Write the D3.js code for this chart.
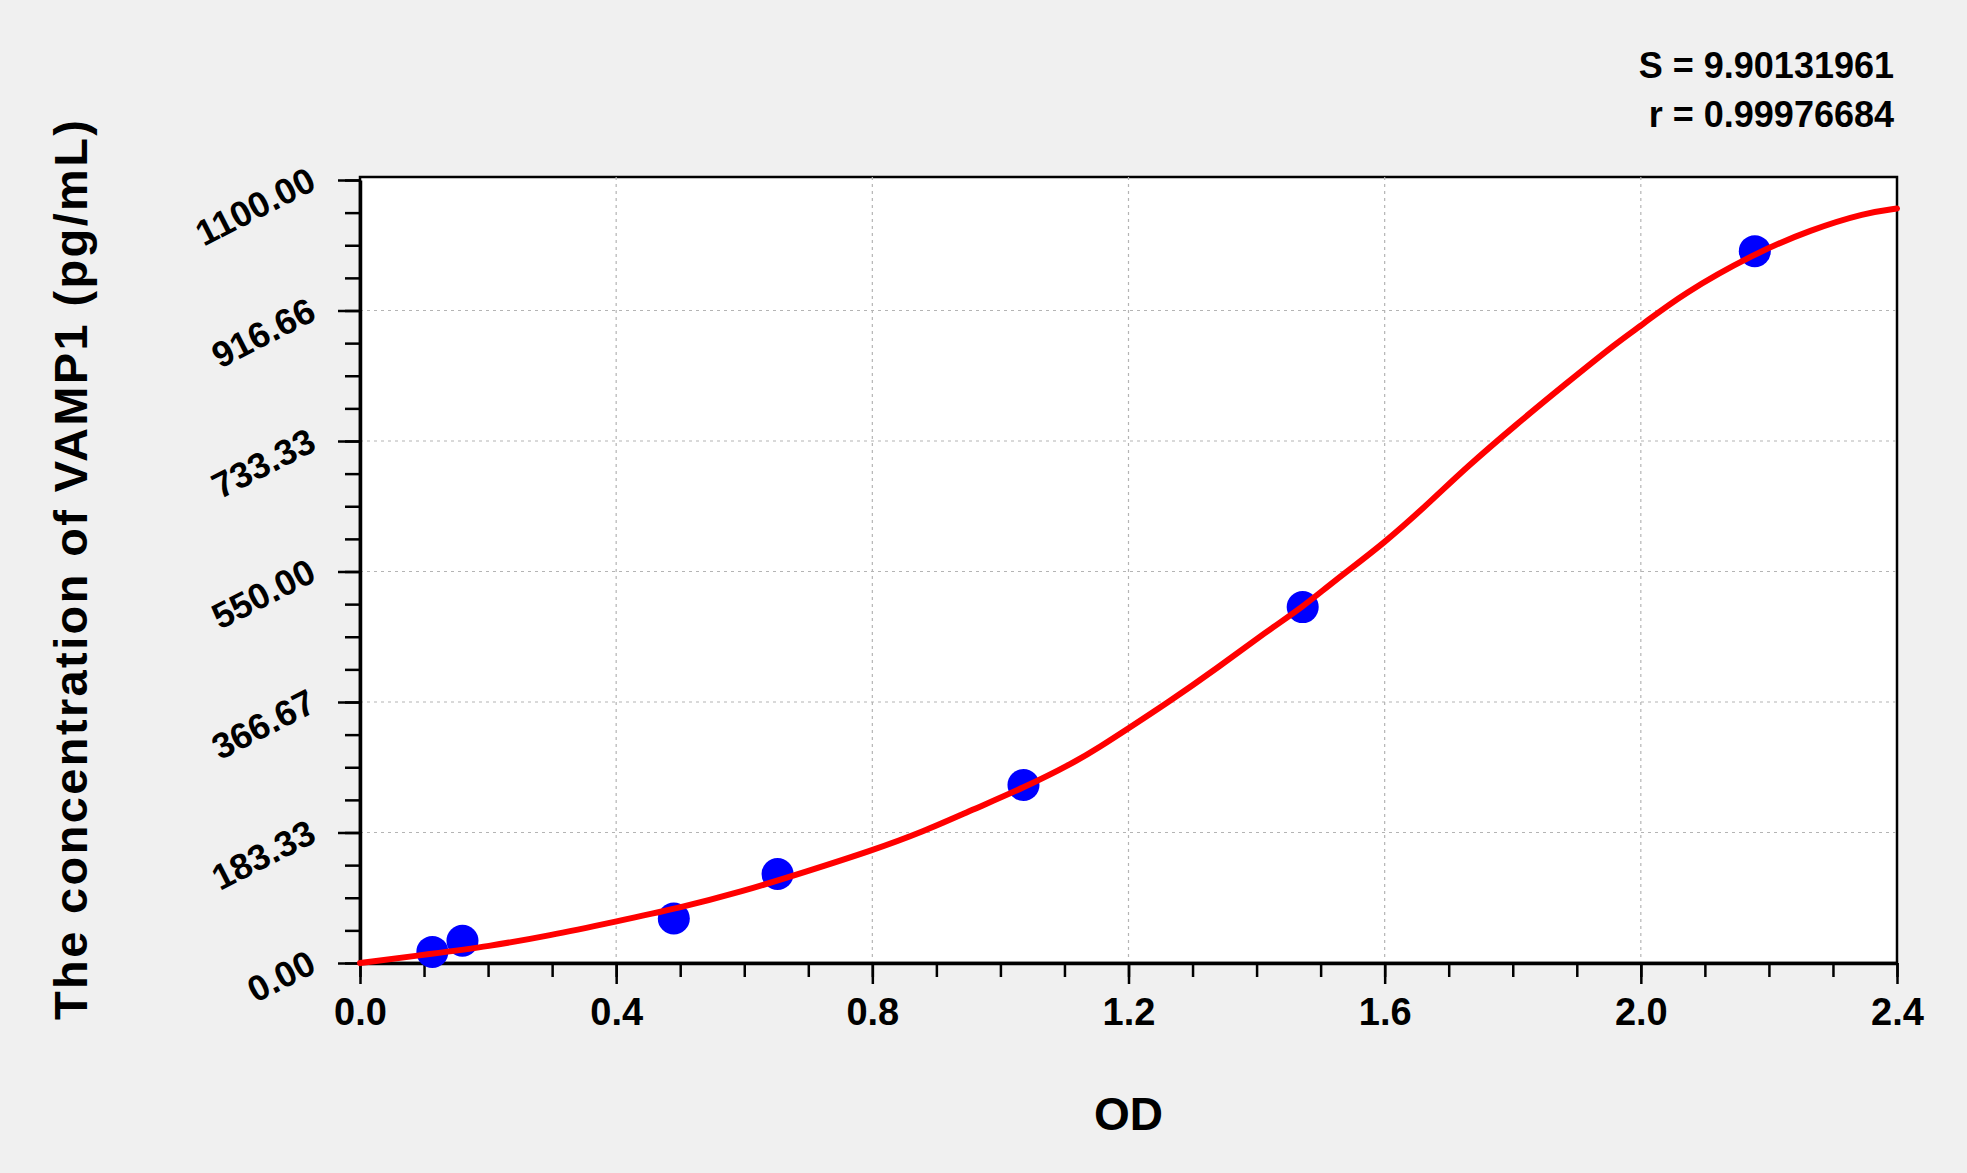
<!DOCTYPE html>
<html>
<head>
<meta charset="utf-8">
<script src="https://cdn.jsdelivr.net/npm/d3@7"></script>
<style>
  html, body { margin: 0; padding: 0; background: #f0f0f0; }
  svg { display: block; font-family: "Liberation Sans", Arial, sans-serif; font-weight: bold; }
</style>
</head>
<body>
<div id="wrapper"></div>
<script>
// standards: OD read on x, concentration on y
const standardOD = [0.113, 0.160, 0.490, 0.652, 1.036, 1.472, 2.178];
const standardConc = [15.6, 31.3, 62.5, 125, 250, 500, 1000];

// fitted curve
const curveOD = [0, 0.113, 0.2, 0.295, 0.4, 0.498, 0.593, 0.698, 0.8, 0.877, 0.958, 1.036,
  1.114, 1.156, 1.197, 1.26, 1.338, 1.416, 1.472, 1.52, 1.6, 1.676, 1.726, 1.806, 1.879,
  1.966, 2.0, 2.065, 2.178, 2.265, 2.351, 2.4];
const curveConc = [0, 13, 23.3, 38.4, 58.4, 77.3, 99.2, 128.7, 158.2, 183.5, 216, 246,
  281, 304, 328, 365, 414, 466, 500, 536, 590, 652, 695, 757, 811,
  874, 895, 940, 997, 1030, 1054, 1060];

const xTicks = [0, 0.4, 0.8, 1.2, 1.6, 2.0, 2.4];
const yTicks = [0, 183.33, 366.67, 550, 733.33, 916.66, 1100];
const yTickLabels = ["0.00", "183.33", "366.67", "550.00", "733.33", "916.66", "1100.00"];
const statLines = ["S = 9.90131961", "r = 0.99976684"];

function drawCurve() {
  const dimensions = {
    width: 1967,
    height: 1173,
    margin: { top: 180, right: 70, bottom: 210, left: 360 },
  };
  dimensions.boundedWidth = dimensions.width - dimensions.margin.left - dimensions.margin.right;
  dimensions.boundedHeight = dimensions.height - dimensions.margin.top - dimensions.margin.bottom;

  const wrapper = d3.select("#wrapper")
    .append("svg")
    .attr("width", dimensions.width)
    .attr("height", dimensions.height);

  const bounds = wrapper.append("g")
    .attr("transform", `translate(${dimensions.margin.left},${dimensions.margin.top})`);

  const xScale = d3.scaleLinear()
    .domain([0, 2.4])
    .range([0, dimensions.boundedWidth]);

  const yScale = d3.scaleLinear()
    .domain([0, 1100])
    .range([dimensions.boundedHeight, 0]);

  // white plot area + frame (top sits a hair above 1100)
  bounds.append("rect")
    .attr("x", 0)
    .attr("y", -3)
    .attr("width", dimensions.boundedWidth)
    .attr("height", dimensions.boundedHeight + 3)
    .attr("fill", "#ffffff")
    .attr("stroke", "#000")
    .attr("stroke-width", 2.5);

  // dotted grid
  const grid = bounds.append("g")
    .attr("stroke", "#b4b4b4")
    .attr("stroke-width", 1.2)
    .attr("stroke-dasharray", "3,4");
  grid.selectAll(".vgrid")
    .data(xTicks.slice(1, -1))
    .join("line")
    .attr("x1", d => xScale(d))
    .attr("x2", d => xScale(d))
    .attr("y1", -3)
    .attr("y2", dimensions.boundedHeight);
  grid.selectAll(".hgrid")
    .data(yTicks.slice(1, -1))
    .join("line")
    .attr("x1", 0)
    .attr("x2", dimensions.boundedWidth)
    .attr("y1", d => yScale(d))
    .attr("y2", d => yScale(d));

  // minor ticks
  const xMinor = d3.range(0, 24.5).map(i => i / 10);
  const yMinor = d3.range(0, 24.5).map(i => i * 1100 / 24);

  bounds.append("g")
    .attr("transform", `translate(0,${dimensions.boundedHeight})`)
    .call(d3.axisBottom(xScale).tickValues(xMinor).tickSize(14).tickSizeOuter(0).tickFormat(""))
    .call(g => g.select(".domain").remove())
    .call(g => g.selectAll("line").attr("stroke-width", 2.5));

  bounds.append("g")
    .call(d3.axisLeft(yScale).tickValues(yMinor).tickSize(15).tickSizeOuter(0).tickFormat(""))
    .call(g => g.select(".domain").remove())
    .call(g => g.selectAll("line").attr("stroke-width", 2.5));

  // major axes
  const xAxis = bounds.append("g")
    .attr("transform", `translate(0,${dimensions.boundedHeight})`)
    .call(d3.axisBottom(xScale)
      .tickValues(xTicks)
      .tickSize(21)
      .tickSizeOuter(0)
      .tickPadding(14)
      .tickFormat(d3.format(".1f")));
  xAxis.select(".domain").attr("stroke-width", 3.5);
  xAxis.selectAll("line").attr("stroke-width", 2.5);
  xAxis.selectAll("text")
    .attr("fill", "#000")
    .style("font-size", "38px")
    .style("font-family", "'Liberation Sans', Arial, sans-serif")
    .style("font-weight", "bold");

  const yAxis = bounds.append("g")
    .call(d3.axisLeft(yScale)
      .tickValues(yTicks)
      .tickSize(22)
      .tickSizeOuter(0)
      .tickFormat((d, i) => yTickLabels[i]));
  yAxis.select(".domain").attr("stroke-width", 3.5);
  yAxis.selectAll("line").attr("stroke-width", 2.5);
  yAxis.selectAll("text")
    .attr("x", null)
    .attr("dy", null)
    .attr("transform", "translate(-42,8) rotate(-27)")
    .attr("text-anchor", "end")
    .attr("fill", "#000")
    .style("font-size", "36px")
    .style("font-family", "'Liberation Sans', Arial, sans-serif")
    .style("font-weight", "bold");

  // standards
  bounds.selectAll("circle")
    .data(standardOD)
    .join("circle")
    .attr("cx", d => xScale(d))
    .attr("cy", (d, i) => yScale(standardConc[i]))
    .attr("r", 16)
    .attr("fill", "#0000ff");

  // fitted curve goes over the dots
  const line = d3.line()
    .x(d => xScale(d))
    .y((d, i) => yScale(curveConc[i]))
    .curve(d3.curveBasis);

  bounds.append("path")
    .attr("d", line(curveOD))
    .attr("fill", "none")
    .attr("stroke", "#ff0000")
    .attr("stroke-width", 6)
    .attr("stroke-linejoin", "round")
    .attr("stroke-linecap", "round");

  // axis titles
  wrapper.append("text")
    .attr("transform", "translate(87,570) rotate(-90)")
    .attr("text-anchor", "middle")
    .attr("textLength", 900)
    .attr("lengthAdjust", "spacing")
    .style("font-size", "47px")
    .text("The concentration of VAMP1 (pg/mL)");

  wrapper.append("text")
    .attr("x", dimensions.margin.left + xScale(1.2))
    .attr("y", 1130)
    .attr("text-anchor", "middle")
    .style("font-size", "46px")
    .text("OD");

  // fit statistics, top right
  wrapper.selectAll(".stat")
    .data(statLines)
    .join("text")
    .attr("class", "stat")
    .attr("x", 1894)
    .attr("y", (d, i) => 78 + i * 49)
    .attr("text-anchor", "end")
    .style("font-size", "36px")
    .text(d => d);
}

drawCurve();
</script>
</body>
</html>
